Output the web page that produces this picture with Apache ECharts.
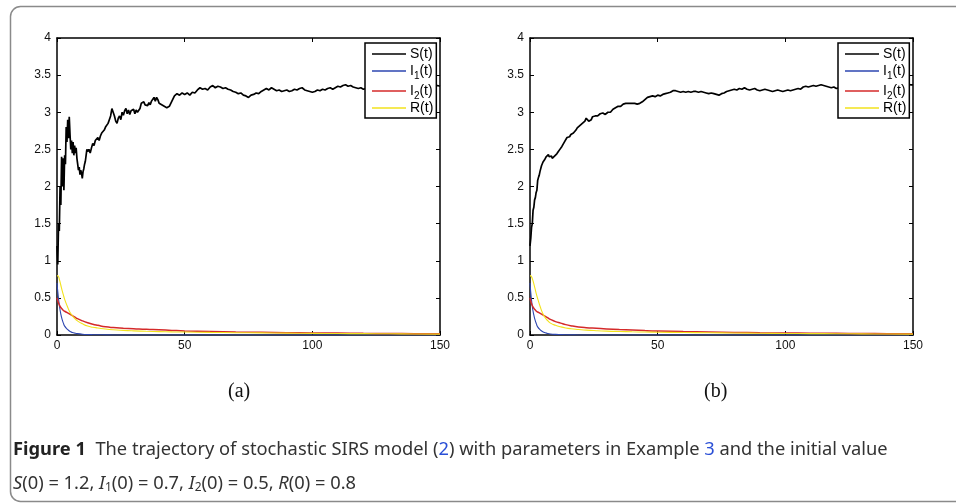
<!DOCTYPE html>
<html>
<head>
<meta charset="utf-8">
<script src="https://cdn.jsdelivr.net/npm/echarts@6/dist/echarts.min.js"></script>
<style>
  html, body { margin: 0; padding: 0; background: #fff; }
  #chart { width: 956px; height: 503px; }
</style>
</head>
<body>
<div id="chart"></div>
<script>
// time points for the S(t) paths (fine early, coarser later)
const tS = [
  0, 0.3, 0.6, 0.9, 1.2, 1.5, 1.8, 2.1, 2.4, 2.7, 3.0, 3.3, 3.6, 3.9, 4.2, 4.5, 4.8, 5.1, 5.4, 5.7,
  6.0, 6.3, 6.6, 6.9, 7.2, 7.5, 7.8, 8.1, 8.4, 8.7, 9.0, 9.3, 9.6, 9.9, 10.2, 10.5, 10.8, 11.1, 11.4, 11.7, 12.0,
  12.5, 13, 13.5, 14, 14.5, 15, 15.5, 16, 16.5, 17, 17.5, 18, 18.5, 19, 19.5, 20, 20.5, 21, 21.5, 22,
  22.5, 23, 23.5, 24, 24.5, 25, 25.5, 26, 26.5, 27, 27.5, 28, 28.5, 29, 29.5, 30, 30.5, 31, 31.5, 32,
  32.5, 33, 33.5, 34, 34.5, 35, 35.5, 36, 36.5, 37, 37.5, 38, 38.5, 39, 39.5, 40,
  41, 42, 43, 44, 45, 46, 47, 48, 49, 50, 51, 52, 53, 54, 55, 56, 57, 58, 59, 60,
  61, 62, 63, 64, 65, 66, 67, 68, 69, 70, 71, 72, 73, 74, 75, 76, 77, 78, 79, 80,
  81, 82, 83, 84, 85, 86, 87, 88, 89, 90, 91, 92, 93, 94, 95, 96, 97, 98, 99, 100,
  101, 102, 103, 104, 105, 106, 107, 108, 109, 110, 111, 112, 113, 114, 115, 116, 117, 118, 119, 120,
  121, 122, 123, 124, 125, 126, 127, 128, 129, 130, 131, 132, 133, 134, 135, 136, 137, 138, 139, 140,
  141, 142, 143, 144, 145, 146, 147, 148, 149, 150
]

// (a) S(t)
const sA = [
  1.2, 0.95, 1.5, 1.4, 2.0, 1.75, 2.4, 2.0, 2.38, 1.95, 2.42, 2.3, 2.8, 2.6, 2.9, 2.65, 2.94, 2.7, 2.5, 2.62,
  2.45, 2.6, 2.42, 2.55, 2.45, 2.52, 2.38, 2.3, 2.22, 2.26, 2.16, 2.22, 2.18, 2.11, 2.2, 2.24, 2.3, 2.34, 2.42, 2.5, 2.47,
  2.5, 2.45, 2.52, 2.58, 2.55, 2.62, 2.6, 2.66, 2.62, 2.68, 2.72, 2.7, 2.76, 2.8, 2.78, 2.85, 2.9, 2.95, 3.05, 3.0,
  2.95, 2.88, 2.85, 2.92, 2.95, 2.9, 3.0, 2.96, 3.02, 3.05, 2.98, 3.03, 2.97, 3.02, 3.0, 3.04, 2.98, 3.03, 3.0, 3.02,
  3.05, 3.12, 3.1, 3.14, 3.1, 3.12, 3.09, 3.13, 3.1, 3.15, 3.16, 3.2, 3.15, 3.2, 3.17, 3.12,
  3.1, 3.08, 3.06, 3.08, 3.15, 3.22, 3.25, 3.23, 3.26, 3.24, 3.26, 3.23, 3.27, 3.26, 3.3, 3.33, 3.31, 3.32, 3.3, 3.34,
  3.36, 3.33, 3.35, 3.34, 3.32, 3.33, 3.31, 3.3, 3.28, 3.27, 3.25, 3.26, 3.23, 3.22, 3.2, 3.23, 3.24, 3.26, 3.25, 3.28,
  3.3, 3.32, 3.3, 3.33, 3.31, 3.29, 3.3, 3.28, 3.29, 3.3, 3.28, 3.29, 3.31, 3.3, 3.32, 3.33, 3.3, 3.29, 3.28, 3.27,
  3.28, 3.3, 3.29, 3.31, 3.3, 3.32, 3.33, 3.31, 3.33, 3.35, 3.34, 3.36, 3.37, 3.35, 3.36, 3.34, 3.33, 3.32, 3.33, 3.31,
  3.32, 3.3, 3.33, 3.31, 3.34, 3.35, 3.33, 3.36, 3.34, 3.32, 3.35, 3.37, 3.36, 3.34, 3.35, 3.33, 3.36, 3.38, 3.35, 3.34,
  3.36, 3.35, 3.37, 3.34, 3.36, 3.35, 3.33, 3.35, 3.36, 3.35
]

// (b) S(t)
const sB = [
  1.2, 1.3, 1.45, 1.5, 1.68, 1.72, 1.82, 1.85, 1.92, 1.95, 2.08, 2.12, 2.15, 2.2, 2.22, 2.28, 2.3, 2.33, 2.32, 2.36,
  2.37, 2.4, 2.38, 2.41, 2.43, 2.4, 2.42, 2.39, 2.41, 2.38, 2.4, 2.39, 2.41, 2.42, 2.41, 2.44, 2.45, 2.47, 2.46, 2.5, 2.52,
  2.54, 2.56, 2.6, 2.62, 2.66, 2.64, 2.67, 2.7, 2.68, 2.72, 2.74, 2.76, 2.79, 2.8, 2.82, 2.84, 2.85, 2.87, 2.88, 2.92,
  2.9, 2.88, 2.86, 2.9, 2.94, 2.93, 2.95, 2.96, 2.95, 2.97, 2.98, 2.97, 2.99, 2.98, 2.97, 2.99, 3.0, 2.99, 3.0, 3.02,
  3.04, 3.05, 3.06, 3.05, 3.08, 3.09, 3.08, 3.1, 3.11, 3.1, 3.12, 3.13, 3.12, 3.13, 3.12, 3.11,
  3.12, 3.11, 3.12, 3.14, 3.17, 3.2, 3.21, 3.22, 3.21, 3.23, 3.22, 3.24, 3.25, 3.26, 3.27, 3.29, 3.29, 3.28, 3.27, 3.28,
  3.27, 3.28, 3.27, 3.28, 3.28, 3.27, 3.28, 3.27, 3.26, 3.25, 3.26, 3.25, 3.24, 3.23, 3.25, 3.26, 3.28, 3.29, 3.3, 3.31,
  3.3, 3.32, 3.31, 3.33, 3.31, 3.3, 3.31, 3.32, 3.3, 3.29, 3.3, 3.31, 3.3, 3.29, 3.28, 3.29, 3.3, 3.29, 3.28, 3.29,
  3.3, 3.29, 3.3, 3.31, 3.32, 3.31, 3.34, 3.35, 3.34, 3.35, 3.36, 3.35, 3.36, 3.37, 3.36, 3.35, 3.34, 3.33, 3.34, 3.32,
  3.33, 3.32, 3.34, 3.33, 3.35, 3.34, 3.33, 3.35, 3.36, 3.34, 3.35, 3.36, 3.37, 3.35, 3.36, 3.34, 3.35, 3.37, 3.36, 3.35,
  3.36, 3.38, 3.37, 3.36, 3.35, 3.37, 3.36, 3.38, 3.37, 3.37
]

// time points for the decaying paths
const tD = [0, 0.5, 1, 1.5, 2, 2.5, 3, 4, 5, 6, 7, 8, 10, 12, 14, 16, 19, 22, 26, 30, 35, 40, 45, 50, 60, 70, 80, 90, 100, 110, 120, 130, 140, 150]

const i1A = [0.7, 0.52, 0.38, 0.28, 0.21, 0.16, 0.12, 0.08, 0.05, 0.035, 0.025, 0.018, 0.01, 0.006, 0.004, 0.003, 0.002, 0.001, 0.001, 0, 0, 0, 0, 0, 0, 0, 0, 0, 0, 0, 0, 0, 0, 0]
const i2A = [0.5, 0.44, 0.4, 0.37, 0.35, 0.33, 0.32, 0.3, 0.28, 0.26, 0.24, 0.22, 0.19, 0.165, 0.145, 0.13, 0.11, 0.1, 0.092, 0.085, 0.076, 0.07, 0.062, 0.055, 0.047, 0.04, 0.036, 0.031, 0.028, 0.026, 0.022, 0.021, 0.018, 0.016]
const rA = [0.8, 0.79, 0.74, 0.67, 0.6, 0.54, 0.48, 0.39, 0.31, 0.26, 0.22, 0.19, 0.15, 0.12, 0.105, 0.095, 0.08, 0.07, 0.062, 0.056, 0.05, 0.046, 0.042, 0.04, 0.035, 0.031, 0.028, 0.025, 0.022, 0.02, 0.018, 0.016, 0.014, 0.012]

const i1B = [0.7, 0.5, 0.36, 0.27, 0.2, 0.15, 0.11, 0.07, 0.045, 0.03, 0.02, 0.014, 0.008, 0.005, 0.003, 0.002, 0.001, 0.001, 0, 0, 0, 0, 0, 0, 0, 0, 0, 0, 0, 0, 0, 0, 0, 0]
const i2B = [0.5, 0.43, 0.39, 0.36, 0.34, 0.32, 0.31, 0.29, 0.27, 0.25, 0.23, 0.21, 0.18, 0.16, 0.14, 0.125, 0.108, 0.098, 0.09, 0.082, 0.074, 0.068, 0.06, 0.054, 0.046, 0.04, 0.035, 0.03, 0.027, 0.024, 0.022, 0.02, 0.018, 0.016]
const rB = [0.8, 0.79, 0.75, 0.69, 0.62, 0.55, 0.49, 0.38, 0.29, 0.23, 0.19, 0.16, 0.13, 0.11, 0.095, 0.085, 0.075, 0.066, 0.058, 0.052, 0.047, 0.043, 0.04, 0.037, 0.033, 0.03, 0.027, 0.024, 0.021, 0.019, 0.017, 0.015, 0.013, 0.012]

const names = ['S(t)', 'I1(t)', 'I2(t)', 'R(t)']
const colors = ['#000000', '#2d46b0', '#d42a2a', '#f2e21c']
const yTicks = ['0', '0.5', '1', '1.5', '2', '2.5', '3', '3.5', '4']

const zip = (t, v) => t.map((x, i) => [x, v[i]])

const chart = echarts.init(document.getElementById('chart'), null, { renderer: 'canvas' })

const sansFam = 'Liberation Sans, Arial, sans-serif'
const axisFont = { color: '#111', fontSize: 12, fontFamily: sansFam }
const boxLine = { show: true, onZero: false, lineStyle: { color: '#000', width: 1.5 } }
const tick = { show: true, inside: true, length: 4, lineStyle: { color: '#000', width: 1 } }

const grids = [
  { left: 57, top: 38, width: 383, height: 297 },
  { left: 530, top: 38, width: 383, height: 297 }
]

const xAxes = []
const yAxes = []
grids.forEach((g, gi) => {
  xAxes.push({ type: 'value', gridIndex: gi, min: 0, max: 150, interval: 50, position: 'bottom',
    axisLine: boxLine, axisTick: tick, splitLine: { show: false },
    axisLabel: Object.assign({ margin: 5 }, axisFont) })
  xAxes.push({ type: 'value', gridIndex: gi, min: 0, max: 150, interval: 50, position: 'top',
    axisLine: boxLine, axisTick: tick, splitLine: { show: false }, axisLabel: { show: false } })
  yAxes.push({ type: 'value', gridIndex: gi, min: 0, max: 4, interval: 0.5, position: 'left',
    axisLine: boxLine, axisTick: tick, splitLine: { show: false },
    axisLabel: Object.assign({ margin: 6, formatter: (v) => yTicks[Math.round(v * 2)] }, axisFont) })
  yAxes.push({ type: 'value', gridIndex: gi, min: 0, max: 4, interval: 0.5, position: 'right',
    axisLine: boxLine, axisTick: tick, splitLine: { show: false }, axisLabel: { show: false } })
})

const panels = [
  [sA, i1A, i2A, rA],
  [sB, i1B, i2B, rB]
]

const series = []
panels.forEach((p, pi) => {
  p.forEach((vals, k) => {
    series.push({
      name: names[k],
      type: 'line',
      xAxisIndex: pi * 2,
      yAxisIndex: pi * 2,
      data: k === 0 ? zip(tS, vals) : zip(tD, vals),
      showSymbol: false,
      symbol: 'none',
      smooth: k !== 0,
      animation: false,
      z: 2,
      lineStyle: { color: colors[k], width: k === 0 ? 1.7 : (k === 2 ? 1.5 : 1.1) },
      itemStyle: { color: colors[k] }
    })
  })
})

const legendRich = {
  n: { fontSize: 14, fontFamily: sansFam, color: '#000', lineHeight: 14 },
  s: { fontSize: 10, fontFamily: sansFam, color: '#000', lineHeight: 4, padding: [10, 0, 0, 0] }
}
const legendFmt = (name) => {
  const m = name.match(/^I(\d)\(t\)$/)
  if (m) return '{n|I}{s|' + m[1] + '}{n|(t)}'
  return '{n|' + name + '}'
}
const legends = [365, 838].map((x) => ({
  left: x, top: 43, orient: 'vertical', align: 'left', z: 10,
  data: names, icon: 'rect', itemWidth: 34, itemHeight: 1.4, itemGap: 0,
  padding: [4, 3, 3, 7],
  backgroundColor: '#fff', borderColor: '#000', borderWidth: 1.5, borderRadius: 0,
  selectedMode: false,
  formatter: legendFmt,
  textStyle: { fontSize: 14, fontFamily: sansFam, color: '#000', lineHeight: 14, rich: legendRich, padding: [0, 0, 0, -1] }
}))

const capFont = 'Noto Sans, Open Sans, sans-serif'
chart.setOption({
  animation: false,
  backgroundColor: '#fff',
  grid: grids,
  xAxis: xAxes,
  yAxis: yAxes,
  legend: legends,
  series: series,
  graphic: [
    { type: 'rect', left: 8, top: 4, z: -1, silent: true,
      shape: { width: 1000, height: 495, r: 10 },
      style: { fill: 'none', stroke: '#8a8a8a', lineWidth: 1.5 } },
    { type: 'text', left: 228, top: 382,
      style: { text: '(a)', font: '20px "Liberation Serif", "DejaVu Serif", serif', fill: '#111' } },
    { type: 'text', left: 704, top: 382,
      style: { text: '(b)', font: '20px "Liberation Serif", "DejaVu Serif", serif', fill: '#111' } },
    { type: 'text', left: 13, top: 441,
      style: {
        text: '{b|Figure 1}  The trajectory of stochastic SIRS model ({l|2}) with parameters in Example {l|3} and the initial value',
        fontFamily: capFont, fontSize: 18.3, fill: '#333',
        rich: {
          b: { fontFamily: capFont, fontSize: 18.3, fontWeight: 'bold', fill: '#222' },
          l: { fontFamily: capFont, fontSize: 18.3, fill: '#2a4fd6' }
        }
      } },
    { type: 'text', left: 13, top: 474,
      style: {
        text: '{i|S}(0) = 1.2, {i|I}{s|1}(0) = 0.7, {i|I}{s|2}(0) = 0.5, {i|R}(0) = 0.8',
        fontFamily: capFont, fontSize: 18.3, fill: '#333',
        rich: {
          i: { fontFamily: capFont, fontSize: 18.3, fontStyle: 'italic', fill: '#333' },
          s: { fontFamily: capFont, fontSize: 12, fill: '#333', lineHeight: 12, padding: [8, 0, 0, 0] }
        }
      } }
  ]
})
</script>
</body>
</html>
